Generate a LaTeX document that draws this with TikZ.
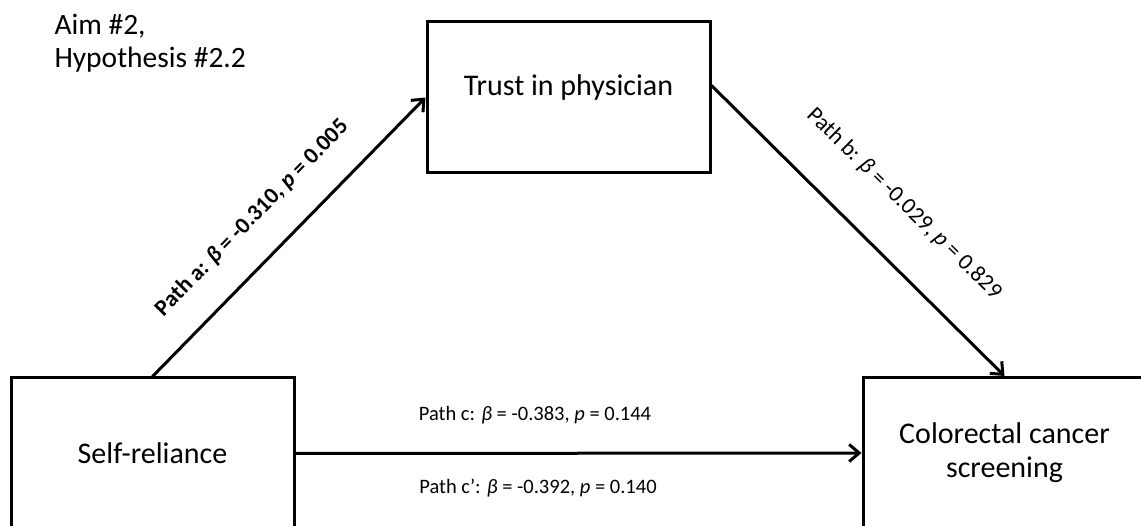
\documentclass[tikz,border=0pt]{standalone}
\usepackage{fontspec}
\setmainfont{Carlito}
\usetikzlibrary{arrows.meta}
\begin{document}
\begin{tikzpicture}[x=1pt, y=1pt, line width=3pt, >={Straight Barb[length=10pt, width=17pt]},
    box/.style = {draw, rectangle, minimum width=283pt, minimum height=151pt, align=center, font=\fontsize{30}{34}\selectfont},
    lbl/.style = {font=\fontsize{20.5}{24}\selectfont, inner sep=0pt}]
    \useasboundingbox (0,0) rectangle (1141,525);
    % Disegna i riquadri del modello di mediazione

    \node[box, text height=21pt, text depth=24pt] (trust) at (568.5,427.5) {Trust in physician};
    \node[box] (self) at (152.5,71.5) {Self-reliance};
    \node[box] (crc) at (1004.5,72) {Colorectal cancer\\screening};

    \draw[->] (self.north) to (trust.west);
    \draw[->] ([yshift=12pt]trust.east) to (crc.north);
    \draw[->] (self.east) to (crc.west);

    \node[lbl, rotate=45.6, font=\fontsize{23}{26}\selectfont] (pa) at (252,307) {\textbf{Path a: \textit{β} = -0.310, \textit{p} = 0.005}};
    \node[lbl, rotate=-44.4, font=\fontsize{23}{26}\selectfont] (pb) at (904,321) {Path b: \textit{β} = -0.029, \textit{p} = 0.829};
    \node[lbl] (pc) at (535,110) {Path c: \textit{β} = -0.383, \textit{p} = 0.144};
    \node[lbl] (pc2) at (538,37) {Path c’: \textit{β} = -0.392, \textit{p} = 0.140};

    \node[anchor=base west, inner sep=0pt, align=left, font=\fontsize{29.5}{33}\selectfont] (aim) at (53,457) {Aim \#2,\\Hypothesis \#2.2};

\end{tikzpicture}
\end{document}
